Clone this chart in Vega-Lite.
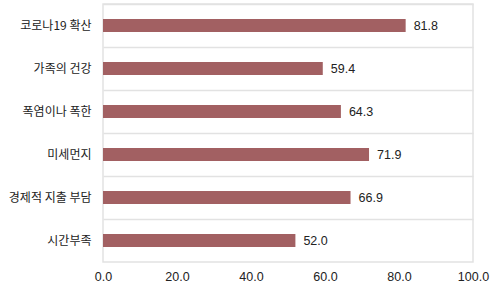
{
  "$schema": "https://vega.github.io/schema/vega-lite/v6.json",
  "width": 370,
  "height": 258,
  "autosize": {"type": "none"},
  "padding": {"left": 103, "top": 4, "right": 27, "bottom": 38},
  "background": "white",
  "config": {
    "font": "Noto Sans CJK KR",
    "view": {"stroke": "#e2e2e2", "strokeWidth": 1.5}
  },
  "data": {
    "values": [
      {"category": "코로나19 확산", "value": 81.8},
      {"category": "가족의 건강", "value": 59.4},
      {"category": "폭염이나 폭한", "value": 64.3},
      {"category": "미세먼지", "value": 71.9},
      {"category": "경제적 지출 부담", "value": 66.9},
      {"category": "시간부족", "value": 52.0}
    ]
  },
  "encoding": {
    "y": {
      "field": "category",
      "type": "nominal",
      "sort": null,
      "title": null,
      "scale": {"paddingInner": 0, "paddingOuter": 0},
      "axis": {
        "bandPosition": 0,
        "grid": true,
        "gridColor": "#e2e2e2",
        "gridWidth": 1.5,
        "ticks": false,
        "domain": false,
        "labelPadding": 12,
        "labelFontSize": 12,
        "labelColor": "#222222",
        "labelBound": false
      }
    },
    "x": {
      "field": "value",
      "type": "quantitative",
      "title": null,
      "scale": {"domain": [0, 100], "nice": false},
      "axis": {
        "values": [0, 20, 40, 60, 80, 100],
        "format": ".1f",
        "grid": false,
        "ticks": false,
        "domain": false,
        "labelPadding": 8,
        "labelFont": "Liberation Sans",
        "labelFontSize": 12.5,
        "labelColor": "#222222",
        "labelFlush": false
      }
    }
  },
  "layer": [
    {
      "mark": {"type": "bar", "size": 13, "color": "#a26062"}
    },
    {
      "mark": {"type": "text", "align": "left", "dx": 8, "font": "Liberation Sans", "fontSize": 12.5, "color": "#222222"},
      "encoding": {
        "text": {"field": "value", "type": "quantitative", "format": ".1f"}
      }
    }
  ]
}
